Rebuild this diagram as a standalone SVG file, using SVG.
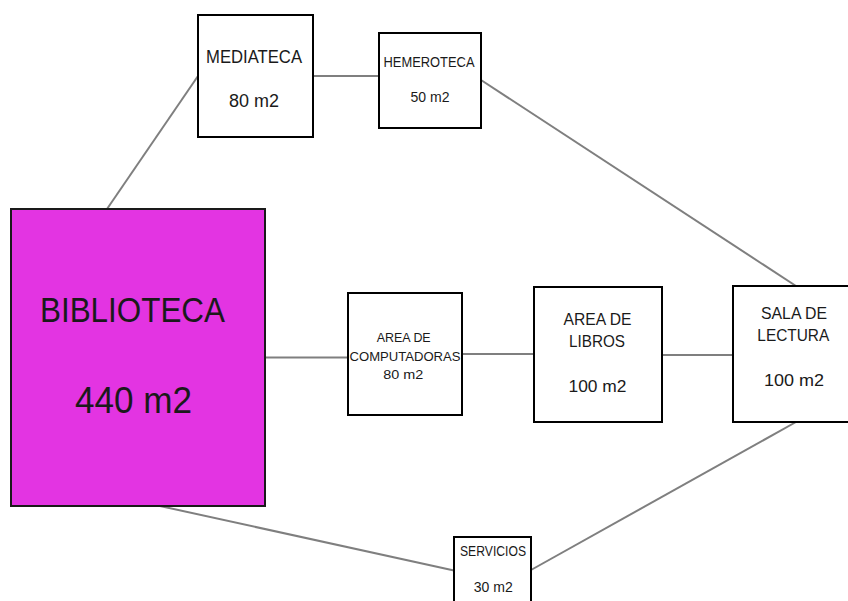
<svg xmlns="http://www.w3.org/2000/svg" width="848" height="601" viewBox="0 0 848 601">
<style>
.box{fill:#ffffff;stroke:#000000;stroke-width:2}
.main{fill:#E334E2;stroke:#1a1a1a;stroke-width:2}
.edge{stroke:#7f7f7f;stroke-width:2;fill:none}
text{font-family:"Liberation Sans",Arial,sans-serif;fill:#1a1a1a;text-anchor:middle}
</style>
<rect width="848" height="601" fill="#ffffff"/>
<g id="connectors">
<line class="edge" x1="107" y1="209" x2="198" y2="76"/>
<line class="edge" x1="313" y1="76" x2="379" y2="76"/>
<line class="edge" x1="481" y1="80" x2="796" y2="286"/>
<line class="edge" x1="265" y1="357.5" x2="348" y2="357.5"/>
<line class="edge" x1="462" y1="354" x2="534" y2="354"/>
<line class="edge" x1="662" y1="355" x2="733" y2="355"/>
<line class="edge" x1="160" y1="506" x2="454" y2="570.5"/>
<line class="edge" x1="531" y1="570" x2="796" y2="422"/>
</g>
<g id="mediateca">
<rect class="box" x="198" y="15" width="115" height="122"/>
<text x="254" y="63" font-size="19" textLength="96" lengthAdjust="spacingAndGlyphs">MEDIATECA</text>
<text x="254" y="107" font-size="18" textLength="50" lengthAdjust="spacingAndGlyphs">80 m2</text>
</g>
<g id="hemeroteca">
<rect class="box" x="379" y="33" width="102" height="95"/>
<text x="429" y="67" font-size="14" textLength="91" lengthAdjust="spacingAndGlyphs">HEMEROTECA</text>
<text x="430" y="102" font-size="15" textLength="39" lengthAdjust="spacingAndGlyphs">50 m2</text>
</g>
<g id="biblioteca">
<rect class="main" x="11" y="209" width="254" height="297"/>
<text x="132.5" y="322" font-size="35" textLength="185" lengthAdjust="spacingAndGlyphs">BIBLIOTECA</text>
<text x="133.5" y="413" font-size="36" textLength="117" lengthAdjust="spacingAndGlyphs">440 m2</text>
</g>
<g id="computadoras">
<rect class="box" x="348" y="293" width="114" height="122"/>
<text x="403.7" y="342" font-size="13.5" textLength="54" lengthAdjust="spacingAndGlyphs">AREA DE</text>
<text x="405" y="361" font-size="13.5" textLength="111" lengthAdjust="spacingAndGlyphs">COMPUTADORAS</text>
<text x="403.3" y="379" font-size="13.5" textLength="40" lengthAdjust="spacingAndGlyphs">80 m2</text>
</g>
<g id="libros">
<rect class="box" x="534" y="287" width="128" height="135"/>
<text x="597.5" y="325" font-size="16.5" textLength="68" lengthAdjust="spacingAndGlyphs">AREA DE</text>
<text x="597" y="347" font-size="16.5" textLength="56" lengthAdjust="spacingAndGlyphs">LIBROS</text>
<text x="597.5" y="392" font-size="16.5" textLength="58" lengthAdjust="spacingAndGlyphs">100 m2</text>
</g>
<g id="sala-lectura">
<rect class="box" x="733" y="286" width="122" height="136"/>
<text x="794" y="319" font-size="17" textLength="66" lengthAdjust="spacingAndGlyphs">SALA DE</text>
<text x="793.3" y="341" font-size="17" textLength="72" lengthAdjust="spacingAndGlyphs">LECTURA</text>
<text x="794" y="386" font-size="17" textLength="60" lengthAdjust="spacingAndGlyphs">100 m2</text>
</g>
<g id="servicios">
<rect class="box" x="454" y="537" width="77" height="70"/>
<text x="493" y="556" font-size="14" textLength="66" lengthAdjust="spacingAndGlyphs">SERVICIOS</text>
<text x="493.3" y="592" font-size="15" textLength="39" lengthAdjust="spacingAndGlyphs">30 m2</text>
</g>
</svg>
